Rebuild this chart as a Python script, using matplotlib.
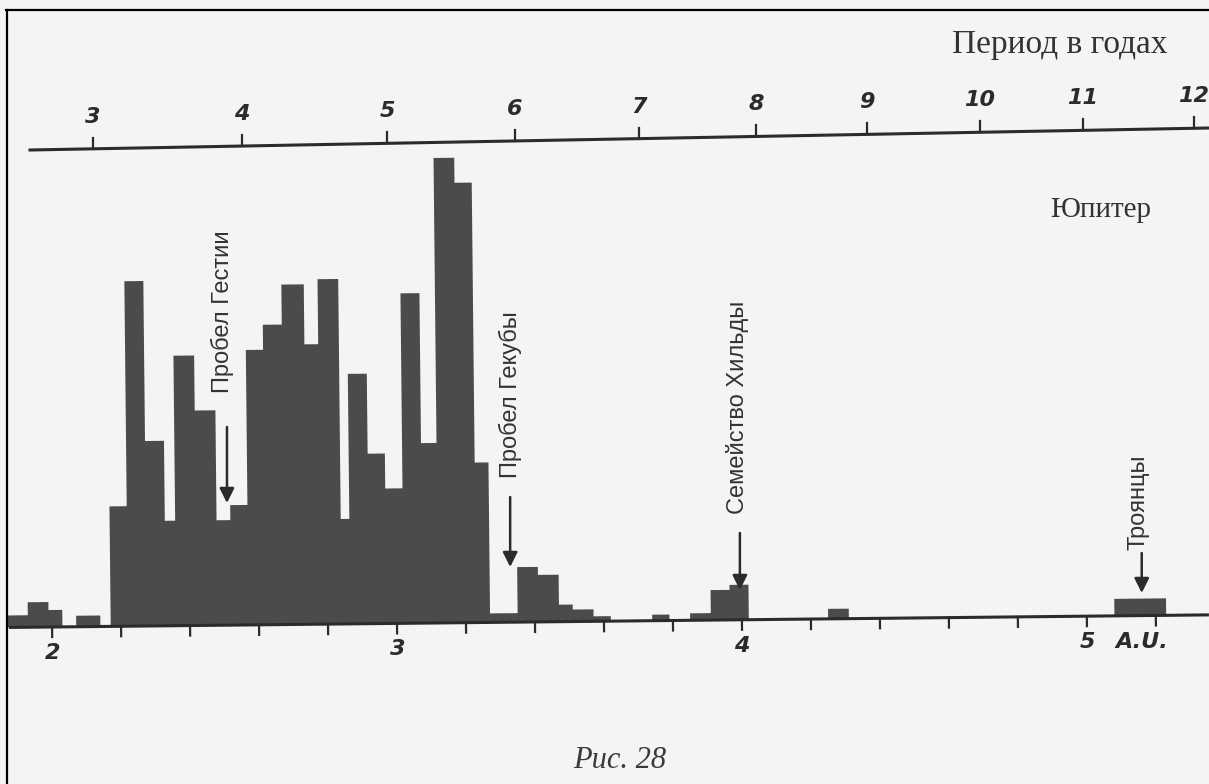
import numpy as np
import matplotlib
matplotlib.use("Agg")
import matplotlib.pyplot as plt
from matplotlib.transforms import Affine2D
from matplotlib.lines import Line2D

# Histogram of asteroid semi-major axes (AU), bin edges and relative counts
edges = [1.87, 1.93, 1.99, 2.03, 2.07, 2.14, 2.17, 2.22, 2.275, 2.33,
         2.36, 2.42, 2.48, 2.52, 2.57, 2.62, 2.675, 2.74, 2.78, 2.84,
         2.865, 2.92, 2.97, 3.02, 3.075, 3.12, 3.18, 3.23, 3.27, 3.35,
         3.41, 3.47, 3.51, 3.57, 3.62, 3.74, 3.79, 3.85, 3.91, 3.965,
         4.02, 4.25, 4.31, 5.08, 5.23]
counts = [2.4, 5, 3.4, 0, 2.2, 0, 24, 69, 37, 21,
          54, 43, 21, 24, 55, 60, 68, 56, 69, 21,
          50, 34, 27, 66, 36, 93, 88, 32, 1.8, 11,
          9.4, 3.4, 2.4, 1, 0, 1.2, 0, 1.4, 6, 7,
          0, 2, 0, 3.4]

# bottom scale (AU)
au_labels = ["2", "3", "4", "5", "A.U."]
au_label_pos = [2.0, 3.0, 4.0, 5.0, 5.16]

# top scale: period in years, placed where drawn above the AU scale
period_labels = ["3", "4", "5", "6", "7", "8", "9", "10", "11", "12"]
period_pos = [2.119, 2.551, 2.971, 3.342, 3.701, 4.041, 4.362, 4.690, 4.988, 5.310]

# annotations: text, arrow tip (a, count), arrow tail count, text centre
notes = ["Пробел Гестии", "Пробел Гекубы", "Семейство Хильды", "Троянцы"]
note_a = [2.507, 3.328, 3.994, 5.159]
note_tip = [24.8, 12.0, 7.4, 6.8]
note_tail = [40.0, 26.0, 18.8, 14.8]
note_text_a = [2.493, 3.328, 3.988, 5.150]
note_text_y = [63.0, 46.5, 44.0, 25.0]

ink = "#2b2b2b"
bar_col = "#4b4b4b"

fig = plt.figure(figsize=(12.09, 7.84), dpi=100, facecolor="#f4f4f4")
ax = fig.add_axes([0, 0, 1, 1])
ax.set_facecolor("#f4f4f4")
ax.axis("off")
ax.set_xlim(1.849, 5.354)
ax.set_ylim(-31.4, 125.4)

# the scan is tilted slightly
rot = ax.transData + Affine2D().rotate_deg_around(52, 157, 0.6)

ax.stairs(counts, edges, fill=True, color=bar_col, baseline=0, transform=rot)
ax.plot([1.875, 5.354], [0, 0], color=ink, lw=2.2, transform=rot, solid_capstyle="butt")

for t in np.arange(2.0, 5.21, 0.2):
    ax.plot([t, t], [0, -2.0], color=ink, lw=1.6, transform=rot)
for lab, p in zip(au_labels, au_label_pos):
    ax.text(p, -5.2, lab, transform=rot, ha="center", va="center",
            fontsize=16, style="italic", weight="bold", color=ink,
            family="DejaVu Sans")

# top period axis (slanted line)
a0, a1 = 1.936, 5.354
y0, y1 = 95.4, 99.8
def top_y(a):
    return y0 + (a - a0) * (y1 - y0) / (a1 - a0)

ax.plot([a0, a1], [top_y(a0), top_y(a1)], color=ink, lw=2.2)
for lab, p in zip(period_labels, period_pos):
    yy = top_y(p)
    ax.plot([p, p], [yy, yy + 2.2], color=ink, lw=1.6)
    ax.text(p, yy + 6.4, lab, ha="center", va="center", fontsize=16,
            style="italic", weight="bold", color=ink, family="DejaVu Sans")

ax.text(4.92, 116.4, "Период в годах", ha="center", va="center",
        fontsize=24, family="Liberation Serif", color="#333333")
ax.text(5.04, 83.4, "Юпитер", ha="center", va="center",
        fontsize=21, family="Liberation Serif", color="#333333")

for txt, xa, tip, tail, xt, yt in zip(notes, note_a, note_tip, note_tail,
                                      note_text_a, note_text_y):
    ax.annotate("", xy=(xa, tip), xytext=(xa, tail),
                arrowprops=dict(arrowstyle="-|>", color=ink, lw=1.8,
                                mutation_scale=22, shrinkA=0, shrinkB=0))
    ax.text(xt, yt, txt, rotation=90, ha="center", va="center", fontsize=17,
            family="Liberation Sans", color="#333333")

ax.text(3.647, -26.6, "Рис. 28", ha="center", va="center", fontsize=22,
        style="italic", family="Liberation Serif", color="#3a3a3a")

# border of the scanned page
fig.add_artist(Line2D([0.005, 1.0], [0.987, 0.987], color="black", lw=1.6))
fig.add_artist(Line2D([0.006, 0.006], [0.0, 0.987], color="black", lw=1.6))

fig.savefig("out.png", dpi=100, facecolor=fig.get_facecolor())
